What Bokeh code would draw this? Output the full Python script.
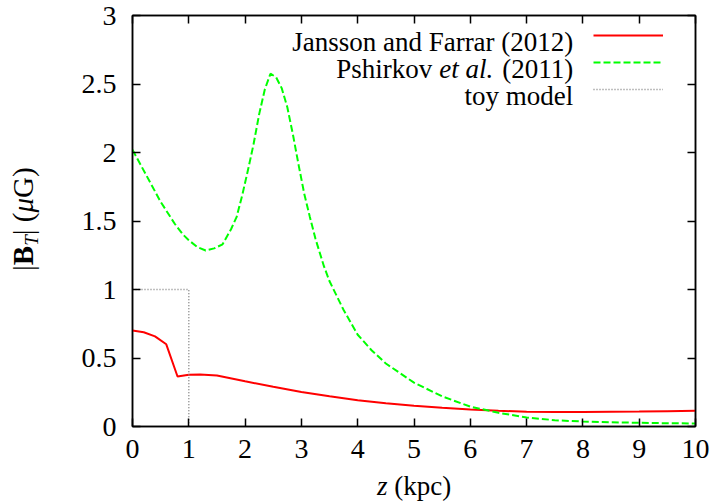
from bokeh.plotting import figure
from bokeh.models import Range1d, FixedTicker, LinearAxis, Label, Legend, LegendItem, Div
from bokeh.layouts import row, column
from bokeh.embed import file_html
from bokeh.resources import INLINE

# ---------------- data ----------------
jf_z = [0, 0.2, 0.4, 0.6, 0.8, 1.0, 1.2, 1.5, 2.0, 2.5, 3.0, 3.5, 4.0, 4.5,
        5.0, 5.5, 6.0, 6.5, 7.0, 7.5, 8.0, 8.5, 9.0, 9.5, 10.0]
jf_b = [0.70, 0.688, 0.658, 0.600, 0.365, 0.377, 0.380, 0.372, 0.330, 0.290,
        0.252, 0.220, 0.192, 0.170, 0.152, 0.137, 0.124, 0.115, 0.108, 0.105,
        0.105, 0.107, 0.109, 0.112, 0.115]

ps_z = [0, 0.25, 0.5, 0.75, 0.9, 1.0, 1.15, 1.3, 1.45, 1.6, 1.75, 1.85, 1.95,
        2.05, 2.15, 2.25, 2.35, 2.45, 2.55, 2.65, 2.75, 2.85, 2.95, 3.05, 3.15,
        3.25, 3.4, 3.5, 3.75, 4.0, 4.25, 4.5, 5.0, 5.5, 6.0, 6.5, 7.0, 7.5,
        8.0, 8.5, 9.0, 9.5, 10.0]
ps_b = [2.02, 1.83, 1.64, 1.48, 1.40, 1.36, 1.31, 1.285, 1.30, 1.33, 1.44,
        1.53, 1.69, 1.87, 2.06, 2.28, 2.46, 2.575, 2.55, 2.47, 2.33, 2.13,
        1.91, 1.70, 1.53, 1.37, 1.17, 1.06, 0.85, 0.67, 0.555, 0.46, 0.32,
        0.22, 0.145, 0.10, 0.066, 0.046, 0.036, 0.031, 0.027, 0.024, 0.022]

toy_z = [0, 1, 1]
toy_b = [1, 1, 0]

x_ticks = [0, 1, 2, 3, 4, 5, 6, 7, 8, 9, 10]
y_ticks = [0, 0.5, 1, 1.5, 2, 2.5, 3]
y_tick_labels = ["0", "0.5", "1", "1.5", "2", "2.5", "3"]

legend_names = ["Jansson and Farrar (2012)", "Pshirkov", "toy model"]

FONT = "Liberation Serif"

p = figure(width=654, height=476, output_backend="svg", toolbar_location=None,
           x_range=Range1d(0, 10), y_range=Range1d(0, 3),
           min_border_left=72, min_border_right=19, min_border_top=15,
           min_border_bottom=50)
p.grid.visible = False
p.outline_line_color = "black"
p.outline_line_width = 1.5
p.background_fill_color = "white"
p.border_fill_color = "white"


def style_axis(ax, ticks, show_labels, size="28px"):
    ax.ticker = FixedTicker(ticks=ticks)
    ax.major_tick_in = 8
    ax.major_tick_out = 0
    ax.minor_tick_in = 0
    ax.minor_tick_out = 0
    ax.axis_line_width = 1.5
    ax.major_tick_line_width = 1.5
    ax.axis_line_color = "black"
    ax.major_tick_line_color = "black"
    ax.major_label_text_font = FONT
    ax.major_label_text_color = "black"
    if show_labels:
        ax.major_label_text_font_size = size
    else:
        ax.major_label_overrides = {t: "" for t in ticks}
        ax.major_label_text_font_size = "1px"
        ax.major_label_standoff = 0


style_axis(p.xaxis[0], x_ticks, True)
p.xaxis[0].major_label_standoff = 13
style_axis(p.yaxis[0], y_ticks, True)
p.yaxis[0].major_label_standoff = 16
p.yaxis[0].major_label_overrides = {t: s for t, s in zip(y_ticks, y_tick_labels)}

top = LinearAxis()
style_axis(top, x_ticks, False)
p.add_layout(top, "above")
right = LinearAxis()
style_axis(right, y_ticks, False)
p.add_layout(right, "right")

r_jf = p.line(jf_z, jf_b, line_color="#ff0000", line_width=2)
r_ps = p.line(ps_z, ps_b, line_color="#00ff00", line_width=2, line_dash="7 3")
r_toy = p.line(toy_z, toy_b, line_color="#808080", line_width=1.5, line_dash="1 2")

legend = Legend(items=[LegendItem(label=" ", renderers=[r_jf]),
                       LegendItem(label=" ", renderers=[r_ps]),
                       LegendItem(label=" ", renderers=[r_toy])],
                location="top_right", margin=0, padding=10, glyph_width=70,
                glyph_height=20, label_height=20, label_width=20,
                label_standoff=2, spacing=7, border_line_alpha=0,
                background_fill_alpha=0, label_text_font_size="13px")
p.add_layout(legend)

LX = 7.83
rows_y = [2.803, 2.608, 2.414]
LFS = "27px"


def leg_label(text, y, dx=0, style="normal"):
    p.add_layout(Label(x=LX, y=y, x_offset=dx, text=text, text_align="right",
                       text_baseline="alphabetic", text_font=FONT, text_font_size=LFS,
                       text_font_style=style, text_color="black"))


leg_label(legend_names[0], rows_y[0])
leg_label("(2011)", rows_y[1])
leg_label("et al.", rows_y[1], dx=-80, style="italic")
leg_label(legend_names[1], rows_y[1], dx=-141)
leg_label(legend_names[2], rows_y[2])

# axis titles as HTML (mixed bold / italic / subscript)
ylab_html = (
    '<div style="position:relative;width:60px;height:503px;">'
    '<div style="position:absolute;left:9px;top:271px;transform-origin:0 0;'
    'transform:rotate(-90deg);white-space:nowrap;font-family:\'Liberation Serif\';'
    'font-size:29px;line-height:1;color:black;">'
    '|<b>B</b><span style="position:relative;top:5px;font-size:19px;font-style:italic;">T</span>'
    '| (<i>\u03bc</i>G)</div></div>'
)
xlab_html = (
    '<div style="position:relative;width:654px;height:27px;">'
    '<div style="position:absolute;left:317px;top:-3px;white-space:nowrap;'
    'font-family:\'Liberation Serif\';font-size:27px;line-height:1;color:black;">'
    '<i>z</i> (kpc)</div></div>'
)
ylab = Div(text=ylab_html, width=60, height=503, margin=0)
xlab = Div(text=xlab_html, width=654, height=27, margin=0,
           styles={"overflow": "visible"})

layout = row(ylab, column(p, xlab, spacing=0), spacing=0)

open("out.html", "w").write(file_html(layout, INLINE))
